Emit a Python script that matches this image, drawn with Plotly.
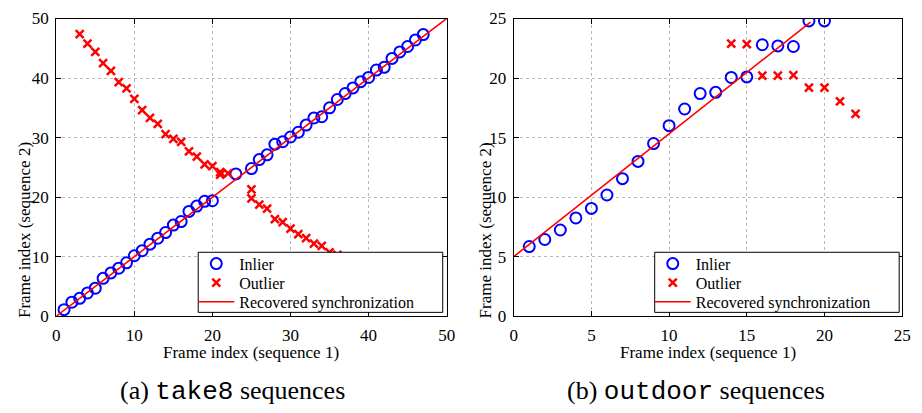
import plotly.graph_objects as go

# ---- data: (a) take8 ----
a_inlier_x = list(range(1, 21)) + [23] + list(range(25, 48))
a_inlier_y = [1.1, 2.35, 3.0, 3.9, 4.7, 6.36, 7.27, 8.06, 8.97, 10.15,
              11.0, 12.1, 13.1, 14.05, 15.3, 15.9, 17.6, 18.5, 19.3, 19.4,
              23.9,
              24.8, 26.3, 27.1, 28.9, 29.3, 30.1, 30.9, 32.1, 33.3, 33.5,
              35.0, 36.4, 37.4, 38.35, 39.4, 40.1, 41.35, 41.8, 43.3, 44.4,
              45.3, 46.4, 47.3]
a_outlier_x = list(range(3, 21)) + [21, 21, 22, 25, 25] + list(range(26, 37))
a_outlier_y = [47.4, 45.8, 44.4, 42.5, 41.2, 39.3, 38.25, 36.5, 34.6, 33.3,
               32.3, 30.6, 29.8, 29.3, 27.7, 26.8, 25.5, 25.2,
               23.8, 24.2, 24.0, 21.3, 19.8,
               18.75, 18.05, 16.3, 15.8, 14.7, 13.8, 13.1, 12.2, 11.8, 10.7, 10.3]
a_sync_x = [0, 50]
a_sync_y = [0, 50]

# ---- data: (b) outdoor ----
b_inlier_x = list(range(1, 21))
b_inlier_y = [5.85, 6.44, 7.24, 8.25, 9.05, 10.18, 11.55, 13.0, 14.5, 16.0,
              17.4, 18.7, 18.8, 20.05, 20.1, 22.8, 22.7, 22.65, 24.8, 24.8]
b_outlier_x = list(range(14, 23))
b_outlier_y = [22.9, 22.86, 20.2, 20.2, 20.25, 19.2, 19.2, 18.05, 17.0]
b_sync_x = [0, 19.1]
b_sync_y = [5, 24.7]

a_ticks = [0, 10, 20, 30, 40, 50]
b_ticks = [0, 5, 10, 15, 20, 25]
series_names = ["Inlier", "Outlier", "Recovered synchronization"]

W, H = 922, 413
SERIF = "Liberation Serif"
BLUE = "#0000ff"
RED = "#ff0000"

fig = go.Figure()

def add_panel(ix, iy, ox, oy, sx, sy, xa, ya, legs):
    fig.add_trace(go.Scatter(x=ix, y=iy, mode="markers", name=series_names[0],
                             marker=dict(symbol="circle-open", size=11, color=BLUE,
                                         line=dict(width=2, color=BLUE)),
                             xaxis=xa, yaxis=ya, legend=legs[0]))
    fig.add_trace(go.Scatter(x=ox, y=oy, mode="markers", name=series_names[1],
                             marker=dict(symbol="x-thin-open", size=8, color=RED,
                                         line=dict(width=2.5, color=RED)),
                             xaxis=xa, yaxis=ya, legend=legs[1]))
    fig.add_trace(go.Scatter(x=sx, y=sy, mode="lines", name=series_names[2],
                             line=dict(color=RED, width=1.6),
                             xaxis=xa, yaxis=ya, legend=legs[2]))

add_panel(a_inlier_x, a_inlier_y, a_outlier_x, a_outlier_y, a_sync_x, a_sync_y,
          "x", "y", ["legend", "legend2", "legend3"])
add_panel(b_inlier_x, b_inlier_y, b_outlier_x, b_outlier_y, b_sync_x, b_sync_y,
          "x2", "y2", ["legend4", "legend5", "legend6"])

ytop = 1 - 10 / H
ybot = 1 - 322 / H

axis_common = dict(showline=True, linecolor="black", linewidth=1, mirror="ticks",
                   ticks="inside", ticklen=5, tickcolor="black",
                   showgrid=True, gridcolor="#b8b8b8", griddash="dot", gridwidth=1,
                   zeroline=False, tickfont=dict(family=SERIF, size=17, color="black"))

def leg(xpx, ypx):
    return dict(x=xpx / W, y=1 - ypx / H, xanchor="left", yanchor="middle",
                bgcolor="rgba(0,0,0,0)", borderwidth=0, itemwidth=36,
                font=dict(family=SERIF, size=16, color="black"),
                itemsizing="trace")

rows = [267, 287, 307]
layout_legends = {}
for x0, names in [(197, ["legend", "legend2", "legend3"]),
                  (660, ["legend4", "legend5", "legend6"])]:
    for name, ry in zip(names, rows):
        layout_legends[name] = leg(x0 - 5, ry)

fig.update_layout(
    width=W, height=H,
    margin=dict(l=0, r=0, t=0, b=0),
    paper_bgcolor="white", plot_bgcolor="white",
    font=dict(family=SERIF, color="black"),
    xaxis=dict(domain=[53 / W, 449 / W], range=[0, 50], tickvals=a_ticks, anchor="y",
               ticklabelstandoff=3, **axis_common),
    yaxis=dict(domain=[ybot, ytop], range=[0, 50], tickvals=a_ticks, anchor="x",
               ticklabelstandoff=3, **axis_common),
    xaxis2=dict(domain=[517 / W, 911 / W], range=[0, 25], tickvals=b_ticks, anchor="y2",
                ticklabelstandoff=3, **axis_common),
    yaxis2=dict(domain=[ybot, ytop], range=[0, 25], tickvals=b_ticks, anchor="x2",
                ticklabelstandoff=3, **axis_common),
    showlegend=True,
    **layout_legends,
)

# legend frames (white boxes with black border)
for (x0, x1) in [(197, 445), (660, 908)]:
    fig.add_shape(type="rect", xref="paper", yref="paper",
                  x0=x0 / W, x1=x1 / W, y0=1 - 318 / H, y1=1 - 255 / H,
                  fillcolor="white", line=dict(color="black", width=1), layer="above")

ann_font = dict(family=SERIF, size=17, color="black")
annotations = [
    dict(text="Frame index (sequence 1)", x=251 / W, y=1 - 360 / H, xref="paper", yref="paper",
         showarrow=False, font=ann_font, xanchor="center", yanchor="middle"),
    dict(text="Frame index (sequence 1)", x=714 / W, y=1 - 360 / H, xref="paper", yref="paper",
         showarrow=False, font=ann_font, xanchor="center", yanchor="middle"),
    dict(text="Frame index (sequence 2)", x=21 / W, y=1 - 232 / H, xref="paper", yref="paper",
         showarrow=False, font=ann_font, textangle=-90, xanchor="center", yanchor="middle"),
    dict(text="Frame index (sequence 2)", x=488 / W, y=1 - 232 / H, xref="paper", yref="paper",
         showarrow=False, font=ann_font, textangle=-90, xanchor="center", yanchor="middle"),
    dict(text='(a) <span style="font-family:Liberation Mono">take8</span> sequences',
         x=232 / W, y=1 - 401 / H, xref="paper", yref="paper", showarrow=False,
         font=dict(family=SERIF, size=26, color="black"), xanchor="center", yanchor="middle"),
    dict(text='(b) <span style="font-family:Liberation Mono">outdoor</span> sequences',
         x=702 / W, y=1 - 401 / H, xref="paper", yref="paper", showarrow=False,
         font=dict(family=SERIF, size=26, color="black"), xanchor="center", yanchor="middle"),
]
fig.update_layout(annotations=annotations)

fig.write_html("out.html")
